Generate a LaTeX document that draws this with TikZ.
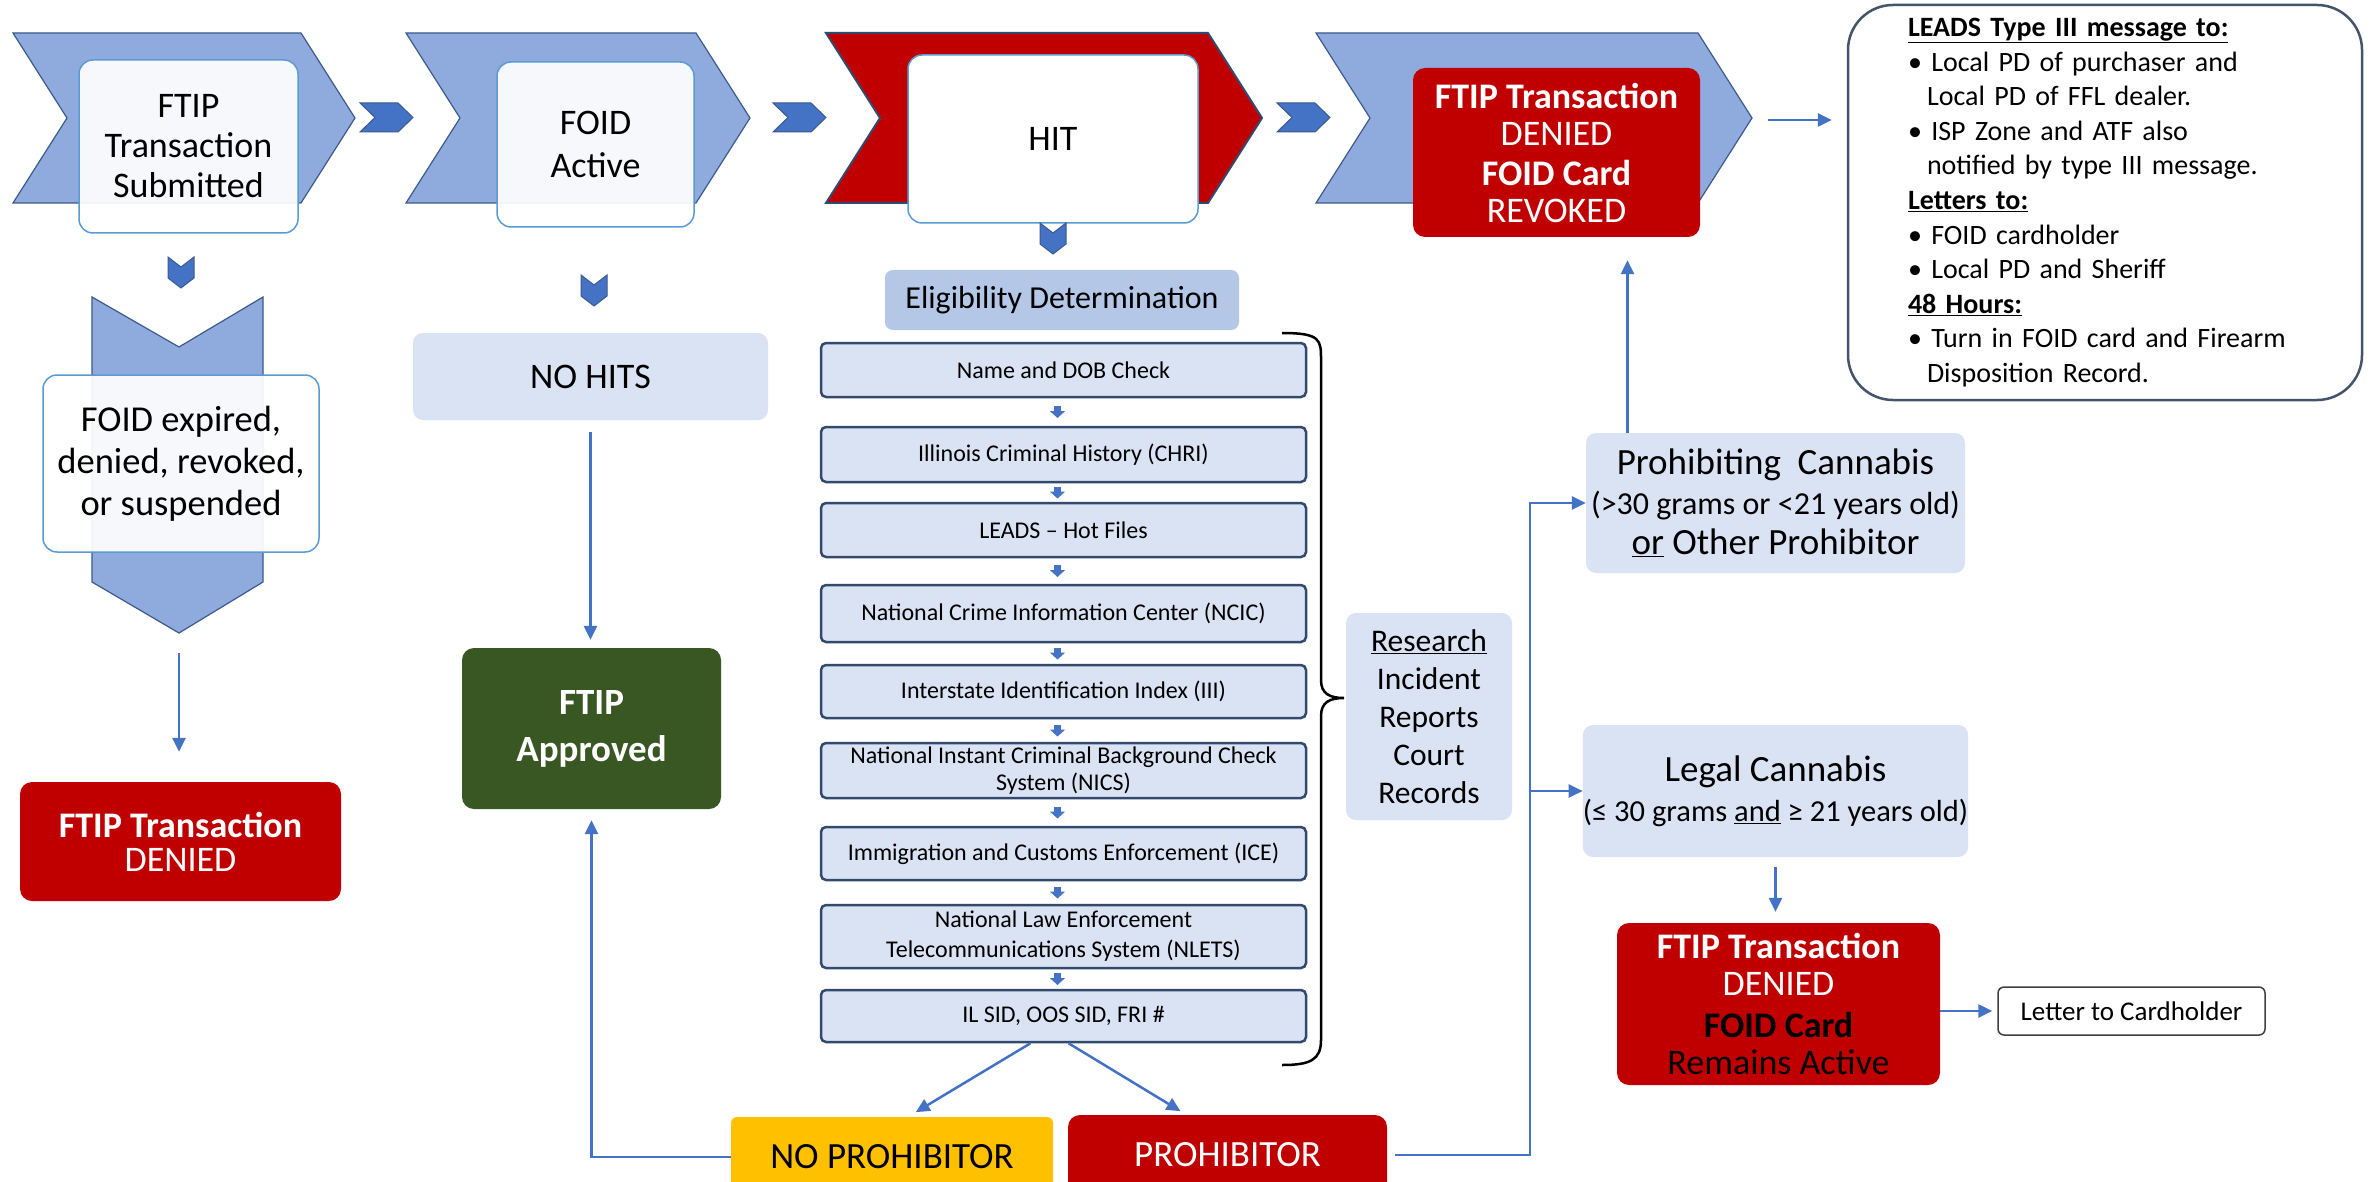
\documentclass[tikz,border=0pt]{standalone}
\usepackage{fontspec}
\setmainfont{Carlito}
\usetikzlibrary{arrows.meta,calc}

\definecolor{chevblue}{HTML}{8FAADC}
\definecolor{chevline}{HTML}{3C5A8C}
\definecolor{darkblue}{HTML}{4472C4}
\definecolor{boxblue}{HTML}{DAE3F3}
\definecolor{eligblue}{HTML}{B4C7E7}
\definecolor{boxline}{HTML}{34496E}
\definecolor{edgeblue}{HTML}{5B9BD5}
\definecolor{denyred}{HTML}{C00000}
\definecolor{okgreen}{HTML}{385723}
\definecolor{noyellow}{HTML}{FFC000}
\definecolor{leadsline}{HTML}{44546A}

% big step chevron: left x, tip x, style
\newcommand{\BigChev}[3]{\draw[#3] (#1,33) -- (#2-54,33) -- (#2,118) -- (#2-54,203) -- (#1,203) -- (#1+54,118) -- cycle;}
% small chevron pointing right: left x
\newcommand{\SmallChev}[1]{\draw[smallchev] (#1,103) -- (#1+38,103) -- (#1+53,117.5) -- (#1+38,132) -- (#1,132) -- (#1+15,117.5) -- cycle;}
% small chevron pointing down: centre x, top y
\newcommand{\SmallDown}[2]{\draw[smallchev] (#1-13,#2) -- (#1,#2+10) -- (#1+13,#2) -- (#1+13,#2+21) -- (#1,#2+31) -- (#1-13,#2+21) -- cycle;}

\begin{document}
\begin{tikzpicture}[x=1pt, y=-1pt,
  chev/.style={fill=chevblue, draw=chevline, line width=1.2pt},
  redchev/.style={fill=denyred, draw=boxline, line width=2pt},
  smallchev/.style={fill=darkblue, draw=chevline, line width=1pt},
  whitebox/.style={draw=edgeblue, line width=1.5pt, fill=white, fill opacity=0.92, text opacity=1, rounded corners=14pt, inner sep=0pt, align=center, font=\fontsize{36}{40}\selectfont},
  checkbox/.style={draw=boxline, line width=2.5pt, fill=boxblue, rounded corners=5pt, inner sep=0pt, minimum width=485pt, align=center, font=\fontsize{24}{29}\selectfont},
  softbox/.style={fill=boxblue, rounded corners=10pt, inner sep=0pt, align=center},
  redbox/.style={fill=denyred, rounded corners=12pt, inner sep=0pt, text=white, align=center, font=\fontsize{36}{37}\selectfont},
  conn/.style={draw=darkblue, line width=2.5pt, -{Triangle[length=14pt,width=13pt]}},
  tinyarr/.style={draw=darkblue, line width=7pt, -{Triangle[length=7pt,width=15pt]}}]

\clip (0,0) rectangle (2374,1182);
\fill[white] (0,0) rectangle (2374,1182);

% top row
\BigChev{13}{355}{chev}
\BigChev{406}{750}{chev}
\BigChev{826}{1262}{redchev}
\BigChev{1316}{1752}{chev}
\coordinate (tip4) at (1752,120);

\node[whitebox, minimum width=219pt, minimum height=173pt] (submit) at (188.5,146.5) {FTIP\\Transaction\\Submitted};
\node[whitebox, minimum width=197pt, minimum height=165pt, font=\fontsize{36}{43}\selectfont] (active) at (595.5,144.5) {FOID\\Active};
\node[whitebox, fill opacity=1, minimum width=290pt, minimum height=168pt] (hit) at (1053,139) {HIT};
\node[redbox, minimum width=287pt, minimum height=169pt] (revoked) at (1556.5,152.5) {\textbf{FTIP Transaction}\\DENIED\\[3pt]\textbf{FOID Card}\\REVOKED};

\SmallChev{360}
\SmallChev{773}
\SmallChev{1277}
\SmallDown{181}{257}
\SmallDown{594}{275}
\SmallDown{1053}{223}

\node[draw=leadsline, line width=2.5pt, fill=white, rounded corners=45pt, minimum width=514pt, minimum height=395pt, inner xsep=60pt, inner ysep=0pt, text width=394pt, align=left, font=\fontsize{28}{34.6}\selectfont] (leads) at (2105,202.5)
  {\underline{\textbf{LEADS Type III message to:}}\\
   \textbullet\ Local PD of purchaser and\\
   \hspace*{19pt}Local PD of FFL dealer.\\
   \textbullet\ ISP Zone and ATF also\\
   \hspace*{19pt}notified by type III message.\\
   \underline{\textbf{Letters to:}}\\
   \textbullet\ FOID cardholder\\
   \textbullet\ Local PD and Sheriff\\
   \underline{\textbf{48 Hours:}}\\
   \textbullet\ Turn in FOID card and Firearm\\
   \hspace*{19pt}Disposition Record.};

% left column
\draw[chev] (92,297) -- (179,347) -- (263,297) -- (263,582) -- (179,633) -- (92,582) -- cycle;
\coordinate (dpoint) at (179,633);
\node[whitebox, minimum width=276pt, minimum height=177pt, font=\fontsize{36.5}{42}\selectfont] (expired) at (181,463.5) {FOID expired,\\denied, revoked,\\or suspended};
\node[redbox, minimum width=321pt, minimum height=119pt, font=\fontsize{36}{34}\selectfont] (denied) at (180.5,841.5) {\textbf{FTIP Transaction}\\DENIED};

% second column
\node[softbox, minimum width=355pt, minimum height=87pt, font=\fontsize{36}{40}\selectfont] (nohits) at (590.5,376.5) {NO HITS};
\node[fill=okgreen, rounded corners=12pt, inner sep=0pt, text=white, align=center, minimum width=259pt, minimum height=161pt, font=\bfseries\fontsize{37}{47}\selectfont] (approved) at (591.5,728.5) {FTIP\\Approved};

% eligibility checks
\node[fill=eligblue, rounded corners=8pt, inner sep=0pt, minimum width=354pt, minimum height=60pt, font=\fontsize{32}{36}\selectfont] (elig) at (1062,300) {Eligibility Determination};
\node[checkbox, minimum height=54pt] (nameb) at (1063.5,370) {Name and DOB Check};
\node[checkbox, minimum height=55pt] (illb) at (1063.5,454.5) {Illinois Criminal History (CHRI)};
\node[checkbox, minimum height=54pt] (leadsb) at (1063.5,530) {LEADS -- Hot Files};
\node[checkbox, minimum height=57pt] (ncicb) at (1063.5,613.5) {National Crime Information Center (NCIC)};
\node[checkbox, minimum height=53pt] (iiib) at (1063.5,691.5) {Interstate Identification Index (III)};
\node[checkbox, minimum height=55pt, font=\fontsize{24}{27}\selectfont] (nicsb) at (1063.5,770.5) {National Instant Criminal Background Check\\System (NICS)};
\node[checkbox, minimum height=53pt] (iceb) at (1063.5,853.5) {Immigration and Customs Enforcement (ICE)};
\node[checkbox, minimum height=63pt, font=\fontsize{24}{30}\selectfont] (nletsb) at (1063.5,936.5) {National Law Enforcement\\Telecommunications System (NLETS)};
\node[checkbox, minimum height=52pt] (sidb) at (1063.5,1016) {IL SID, OOS SID, FRI \#};

\foreach \a/\b in {nameb/illb, illb/leadsb, leadsb/ncicb, ncicb/iiib, iiib/nicsb, nicsb/iceb, iceb/nletsb, nletsb/sidb}
  \draw[tinyarr] ($(\a.south)!.5!(\b.north)+(-6,-6)$) -- ($(\a.south)!.5!(\b.north)+(-6,6)$);

% brace and research
\draw[line width=2.5pt] (1282,333) .. controls (1321,333) and (1321,340) .. (1321,360) -- (1321,680)
  .. controls (1321,694) and (1330,698) .. (1344,698) .. controls (1330,698) and (1321,702) .. (1321,716)
  -- (1321,1040) .. controls (1321,1060) and (1310,1065) .. (1282,1065);
\node[softbox, minimum width=166pt, minimum height=207pt, font=\fontsize{31.5}{38}\selectfont] (research) at (1429,716.5) {\underline{Research}\\Incident\\Reports\\Court\\Records};

% outcomes
\node[fill=noyellow, rounded corners=6pt, inner sep=0pt, minimum width=322pt, minimum height=80pt, font=\fontsize{37}{40}\selectfont] (noprob) at (892,1157) {NO PROHIBITOR};
\node[redbox, minimum width=319pt, minimum height=80pt, font=\fontsize{37}{40}\selectfont] (prob) at (1227.5,1155) {PROHIBITOR};

% cannabis branch
\node[softbox, minimum width=379pt, minimum height=140pt, font=\fontsize{37}{40}\selectfont] (prohib) at (1775.5,503) {Prohibiting\ \ Cannabis\\{\fontsize{32}{40}\selectfont (>30 grams or <21 years old)}\\\underline{or} Other Prohibitor};
\node[softbox, minimum width=379pt, minimum height=132pt, font=\fontsize{37}{40}\selectfont] (legal) at (1775.5,791) {Legal Cannabis\\{\fontsize{30.5}{40}\selectfont (≤ 30 grams \underline{and} ≥ 21 years old)}};
\node[redbox, minimum width=323pt, minimum height=162pt, font=\fontsize{36}{37}\selectfont] (denied2) at (1778.5,1004) {\textbf{FTIP Transaction}\\DENIED\\[5pt]\textcolor{black}{\textbf{FOID Card}}\\\textcolor{black}{Remains Active}};
\node[draw=black!75, line width=1.5pt, fill=white, rounded corners=6pt, inner sep=0pt, minimum width=267pt, minimum height=48pt, font=\fontsize{27}{30}\selectfont] (letter) at (2131.5,1011) {Letter to Cardholder};

% connectors
\draw[conn, shorten <=16pt, shorten >=15pt] (tip4) -- (tip4 -| leads.west);
\draw[conn, shorten <=20pt, shorten >=30pt] (dpoint) -- (dpoint |- denied.north);
\draw[conn, shorten <=12pt, shorten >=8pt] (nohits.south) -- (nohits.south |- approved.north);
\draw[conn, shorten >=11pt] (noprob.west) -| (approved.south);
\draw[conn, shorten >=9pt] ([xshift=-33pt]sidb.south) -- ([xshift=16pt]noprob.north);
\draw[conn, shorten >=7pt] ([xshift=5pt]sidb.south) -- ([xshift=-41pt]prob.north);
\coordinate (bus) at (1530,1155);
\draw[conn, shorten <=8pt] (prob.east) -- (bus) |- (prohib.west);
\draw[conn] (bus) |- (legal.west);
\coordinate (up) at ([xshift=-148pt]prohib.north);
\draw[conn, shorten >=23pt] (up) -- (up |- revoked.south);
\draw[conn, shorten <=10pt, shorten >=11pt] (legal.south) -- (legal.south |- denied2.north);
\draw[conn, shorten >=5pt] (denied2.east |- letter) -- (letter.west);

\end{tikzpicture}
\end{document}
